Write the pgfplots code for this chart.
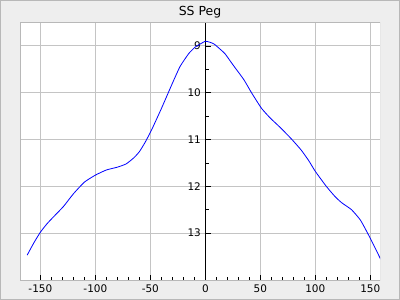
\documentclass[border=0pt]{standalone}
\usepackage{pgfplots}
\pgfplotsset{compat=1.18}
\usepackage{fontspec}
\setmainfont{DejaVu Sans}
\definecolor{bg}{HTML}{EEEEEE}
\definecolor{gridc}{HTML}{C4C4C4}
\definecolor{frame}{HTML}{B8B8B8}
\begin{document}
\begin{tikzpicture}[x=1bp,y=1bp]
\fill[bg] (0,0) rectangle (400,300);
\draw[frame, line width=1bp] (0.5,0.5) rectangle (399.5,299.5);
\node[font=\fontsize{12.5}{14}\selectfont, anchor=base, inner sep=0pt] at (200,284.7) {SS Peg};
\begin{axis}[at={(20bp,20bp)}, anchor=south west, scale only axis,
  width=360bp, height=257bp,
  xmin=-168.5, xmax=158.8, ymin=8.51, ymax=14.0, y dir=reverse,
  axis background/.style={fill=white},
  axis x line*=bottom, axis y line*=middle,
  x axis line style={draw=none, -}, y axis line style={black, line width=1bp, -},
  xtick={-150,-100,-50,0,50,100,150},
  xticklabels={-150,-100,-50,0,50,100,150},
  ytick={9,10,11,12,13},
  yticklabels={9,10,11,12,13},
  minor x tick num=4, minor y tick num=1,
  xtick align=inside, ytick align=inside,
  major tick length=5.5bp, minor tick length=3.5bp,
  tick style={black, line width=0.8bp},
  grid=major, major grid style={gridc, line width=1bp},
  tick label style={font=\fontsize{10.5}{12}\selectfont},
  xticklabel style={yshift=-1bp},
  yticklabel style={xshift=-1bp},
  clip=true,
]
\addplot[blue, line width=0.8bp, smooth, tension=0.3] coordinates {
(-162,13.47) (-156,13.21) (-150,12.98) (-144,12.80) (-138,12.65) (-129,12.43)
(-120,12.16) (-110,11.91) (-100,11.76) (-90,11.65) (-80,11.59) (-72,11.52)
(-65,11.39) (-60,11.26) (-55,11.07) (-49,10.80) (-40,10.34) (-30,9.80)
(-23,9.44) (-15,9.16) (-9,9.02) (-4,8.95) (0,8.90) (4,8.92) (8,8.96)
(13,9.06) (18,9.17) (25,9.40) (35,9.72) (42,10.00) (51,10.33) (59,10.54)
(68,10.74) (78,10.98) (87,11.22) (94,11.45) (100,11.68) (110,12.00)
(118,12.22) (124,12.35) (133,12.50) (141,12.72) (148,13.02) (153,13.25)
(158,13.49) (162,13.68)
};
\draw[frame, line width=1bp] (rel axis cs:0,0) rectangle (rel axis cs:1,1);
\end{axis}
\end{tikzpicture}
\end{document}
